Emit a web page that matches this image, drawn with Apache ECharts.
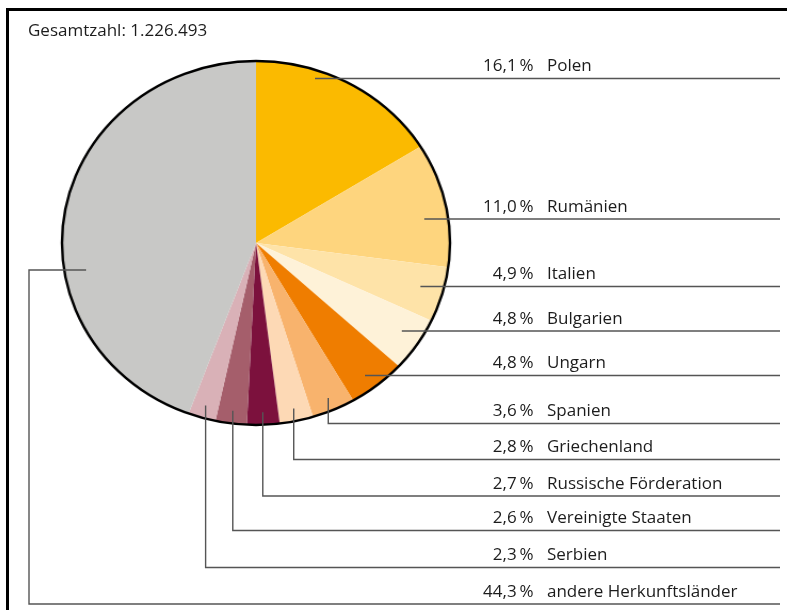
<!DOCTYPE html>
<html><head><meta charset="utf-8">
<script src="https://cdn.jsdelivr.net/npm/echarts@6/dist/echarts.min.js"></script>
<style>
html,body{margin:0;padding:0;background:#fff;}
#wrap{position:relative;width:787px;height:610px;overflow:hidden;background:#fff;}
#pie,#ann{position:absolute;left:0;top:0;width:787px;height:610px;}
#pie{transform-origin:256px 243px;transform:scaleX(1.066);}
</style></head><body>
<div id="wrap"><div id="pie"></div><div id="ann"></div></div>
<script>
// ---- data ----
const categories = ['Polen','Rumänien','Italien','Bulgarien','Ungarn','Spanien','Griechenland','Russische Förderation','Vereinigte Staaten','Serbien','andere Herkunftsländer'];
const shares = [16.1, 11.0, 4.9, 4.8, 4.8, 3.6, 2.8, 2.7, 2.6, 2.3, 44.3];
const totalLabel = 'Gesamtzahl: 1.226.493';

// ---- styles / layout ----
const colors = ['#fbba00','#fed57e','#fee3a8','#fef2d8','#ef7d00','#f8b36d','#fdd9b5','#7c113d','#a55e6b','#d9b1b7','#c8c8c6'];
const CX = 256, CY = 243, R = 182, SX = 1.066;
const LINE_END_X = 780, RAIL_X = 29;
const labelRowY = [78.5, 219, 286.5, 331, 375.5, 423.5, 459.5, 496, 530.5, 567.5, 604];
const leaderKind = ['h','h','h','h','h','v','v','v','v','v','l'];
const FONT = '"Open Sans", "Noto Sans", sans-serif';
const FS = 17;
const TXT = '#1c1c1c';
const LINE = '#555';

const pie = echarts.init(document.getElementById('pie'));
pie.setOption({
  animation: false,
  series: [{
    type: 'pie', center: [CX, CY], radius: [0, R], startAngle: 90, clockwise: true,
    silent: true, label: {show: false}, labelLine: {show: false},
    itemStyle: {borderWidth: 0},
    data: categories.map((n, i) => ({name: n, value: shares[i], itemStyle: {color: colors[i]}}))
  }, {
    type: 'pie', center: [CX, CY], radius: [0, R], silent: true,
    label: {show: false}, labelLine: {show: false},
    data: [{name: 'outline', value: 1, itemStyle: {color: 'rgba(0,0,0,0)', borderColor: '#000', borderWidth: 2.4}}]
  }]
});

// read layout computed by the pie series
const sData = pie.getModel().getSeriesByIndex(0).getData();
function layoutOf(i) { return sData.getItemLayout(i); }
function edgeDx(y, L) { const t = (y - L.cy) / L.r; return L.r * SX * Math.sqrt(Math.max(0, 1 - t * t)); }
function sx(x, L) { return L.cx + (x - L.cx) * SX; }

const els = [];
// frame
els.push({type: 'rect', shape: {x: 6, y: 8, width: 781, height: 3}, style: {fill: '#000'}});
els.push({type: 'rect', shape: {x: 6, y: 8, width: 3, height: 602}, style: {fill: '#000'}});
els.push({type: 'text', style: {text: totalLabel, x: 28, y: 31.5, fill: TXT, fontSize: FS, fontFamily: FONT, textAlign: 'left', textVerticalAlign: 'middle'}});

categories.forEach((name, i) => {
  const L = layoutOf(i);
  const rowY = labelRowY[i];
  let pts;
  if (leaderKind[i] === 'h') {
    const ax = L.cx + edgeDx(rowY, L) - 24;
    pts = [[ax, rowY], [LINE_END_X, rowY]];
  } else if (leaderKind[i] === 'v') {
    const a = (L.startAngle + L.endAngle) / 2;
    const k = 0.93;
    const px = sx(L.cx + L.r * k * Math.cos(a), L);
    const py = L.cy + L.r * k * Math.sin(a);
    pts = [[px, py], [px, rowY], [LINE_END_X, rowY]];
  } else {
    const ay = L.cy + 27;
    const ax = L.cx - edgeDx(ay, L) + 22;
    pts = [[ax, ay], [RAIL_X, ay], [RAIL_X, rowY], [LINE_END_X, rowY]];
  }
  els.push({type: 'polyline', shape: {points: pts}, style: {stroke: LINE, lineWidth: 1.4, fill: null}});
  const pct = shares[i].toFixed(1).replace('.', ',') + '\u2009%';
  els.push({type: 'text', style: {text: pct, x: 533.5, y: rowY - 12, fill: TXT, fontSize: FS, fontFamily: FONT, textAlign: 'right', textVerticalAlign: 'middle'}});
  els.push({type: 'text', style: {text: name, x: 547, y: rowY - 12, fill: TXT, fontSize: FS, fontFamily: FONT, textAlign: 'left', textVerticalAlign: 'middle'}});
});

const ann = echarts.init(document.getElementById('ann'));
ann.setOption({animation: false, graphic: {elements: els}});
</script>
</body></html>
